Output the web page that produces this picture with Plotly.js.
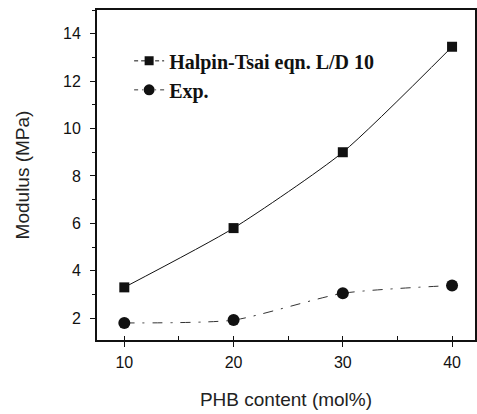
<!DOCTYPE html>
<html>
<head>
<meta charset="utf-8">
<script src="https://cdn.plot.ly/plotly-3.0.1.min.js"></script>
<style>html,body{margin:0;padding:0;background:#fff;}#chart{width:477px;height:414px;}</style>
</head>
<body>
<div id="chart"></div>
<script>
const phbContent = [10, 20, 30, 40];
const halpinTsai = [3.3, 5.8, 9.0, 13.45];
const experimental = [1.8, 1.92, 3.05, 3.38];
const seriesNames = ["Halpin-Tsai eqn. L/D 10", "Exp."];
const yTicks = [2, 4, 6, 8, 10, 12, 14];
const xTicks = [10, 20, 30, 40];

const traces = [
  {
    x: phbContent, y: halpinTsai, type: 'scatter', mode: 'lines+markers',
    line: {color: '#111', width: 1, shape: 'spline', smoothing: 0.6},
    marker: {symbol: 'square', size: 10, color: '#111'},
    showlegend: false, hoverinfo: 'skip'
  },
  {
    x: phbContent, y: experimental, type: 'scatter', mode: 'lines+markers',
    line: {color: '#333', width: 1, shape: 'spline', smoothing: 0.6, dash: '10px,8px,2px,8px'},
    marker: {symbol: 'circle', size: 12, color: '#111'},
    showlegend: false, hoverinfo: 'skip'
  },
  {
    x: [null], y: [null], type: 'scatter', mode: 'lines+markers', name: seriesNames[0],
    legendgroup: 'a',
    line: {color: '#111', width: 1, dash: '4px,3px'},
    marker: {symbol: 'square', size: 9, color: '#111'}
  },
  {
    x: [null], y: [null], type: 'scatter', mode: 'lines+markers', name: seriesNames[1],
    legendgroup: 'b',
    line: {color: '#333', width: 1, dash: '4px,4px,1px,4px'},
    marker: {symbol: 'circle', size: 11, color: '#111'}
  }
];

const layout = {
  width: 477, height: 414,
  margin: {l: 97, r: 2, t: 10, b: 74},
  paper_bgcolor: '#fff', plot_bgcolor: '#fff',
  font: {family: 'Liberation Sans, Arial, sans-serif', color: '#111'},
  xaxis: {
    range: [7.5, 42.1], tickvals: xTicks, ticktext: xTicks.map(String),
    showgrid: false, zeroline: false, showline: true, linecolor: '#111', linewidth: 2,
    mirror: true, ticks: 'outside', ticklen: 5, tickwidth: 1, tickcolor: '#111',
    tickfont: {size: 16, color: '#111'}, ticklabelstandoff: 2,
    minor: {dtick: 5, tick0: 5, ticks: 'inside', ticklen: 4, tickcolor: '#111', showgrid: false},
    title: {text: 'PHB content (mol%)', font: {size: 19, color: '#222'}, standoff: 22}
  },
  yaxis: {
    range: [1.08, 15.0], tickvals: yTicks, ticktext: yTicks.map(String),
    showgrid: false, zeroline: false, showline: true, linecolor: '#111', linewidth: 2,
    mirror: true, ticks: 'outside', ticklen: 5, tickwidth: 1, tickcolor: '#111',
    tickfont: {size: 16, color: '#111'}, ticklabelstandoff: 6,
    minor: {dtick: 1, tick0: 1, ticks: 'outside', ticklen: 3, tickcolor: '#111', showgrid: false},
    title: {text: 'Modulus (MPa)', font: {size: 19, color: '#222'}, standoff: 28}
  },
  legend: {
    x: 0.085, y: 0.905, xanchor: 'left', yanchor: 'top',
    bgcolor: 'rgba(0,0,0,0)', borderwidth: 0,
    font: {family: 'Liberation Serif, Times New Roman, serif', size: 20, color: '#111', weight: 'bold'},
    tracegroupgap: 0
  },
  showlegend: true
};

Plotly.newPlot('chart', traces, layout, {displayModeBar: false, staticPlot: true});
</script>
</body>
</html>
